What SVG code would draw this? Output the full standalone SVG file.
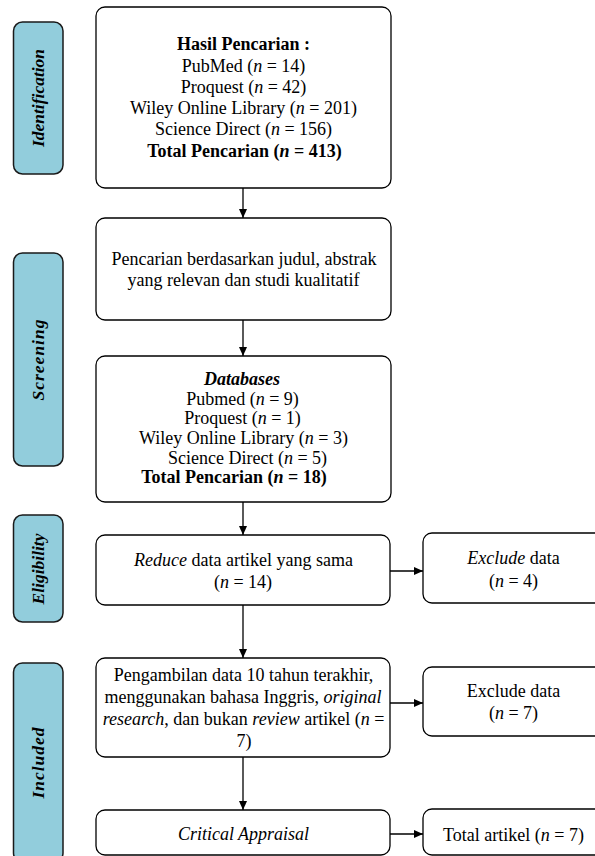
<svg xmlns="http://www.w3.org/2000/svg" width="595" height="856" viewBox="0 0 595 856">
<style>
.box{fill:#fff;stroke:#000;stroke-width:1.3}
.lab{fill:#92CDDC;stroke:#1a1a1a;stroke-width:1.5}
.t{font-family:"Liberation Serif","Times New Roman",serif;font-size:18px;fill:#000;text-anchor:middle}
.lt{font-family:"Liberation Serif","Times New Roman",serif;font-size:17.5px;font-weight:bold;font-style:italic;fill:#000;text-anchor:middle}
.b{font-weight:bold}
.i{font-style:italic}
.con{stroke:#000;stroke-width:1.3;fill:none;marker-end:url(#ah)}
</style>
<defs>
<marker id="ah" markerUnits="userSpaceOnUse" markerWidth="9" markerHeight="8" refX="9" refY="4" orient="auto">
<path d="M0,0 L9,4 L0,8 z" fill="#000"/>
</marker>
</defs>
<g id="label-identification">
<rect class="lab" x="13.5" y="22" width="49.5" height="152" rx="9"/>
<text class="lt" transform="translate(44,98) rotate(-90)">Identification</text>
</g>
<g id="label-screening">
<rect class="lab" x="13.5" y="253" width="49.5" height="213" rx="9"/>
<text class="lt" transform="translate(44,359.5) rotate(-90)" letter-spacing="1">Screening</text>
</g>
<g id="label-eligibility">
<rect class="lab" x="13.5" y="515" width="49.5" height="107" rx="9"/>
<text class="lt" transform="translate(44,569) rotate(-90)">Eligibility</text>
</g>
<g id="label-included">
<rect class="lab" x="13.5" y="663" width="49.5" height="199" rx="9"/>
<text class="lt" transform="translate(44,762.5) rotate(-90)" letter-spacing="1">Included</text>
</g>
<g id="box-hasil">
<rect class="box" x="96" y="7" width="295" height="181" rx="9"/>
<text class="t" x="243.5" y="49.5"><tspan class="b">Hasil Pencarian :</tspan></text>
<text class="t" x="243.5" y="71.5">PubMed (<tspan class="i">n</tspan> = 14)</text>
<text class="t" x="243.5" y="92.5">Proquest (<tspan class="i">n</tspan> = 42)</text>
<text class="t" x="243.5" y="113.5">Wiley Online Library (<tspan class="i">n</tspan> = 201)</text>
<text class="t" x="243.5" y="135">Science Direct (<tspan class="i">n</tspan> = 156)</text>
<text class="t b" x="244.5" y="156.5">Total Pencarian (<tspan class="i">n</tspan> = 413)</text>
</g>
<g id="box-judul">
<rect class="box" x="96" y="218" width="295" height="102" rx="9"/>
<text class="t" x="244" y="265">Pencarian berdasarkan judul, abstrak</text>
<text class="t" x="243.5" y="286">yang relevan dan studi kualitatif</text>
</g>
<g id="box-databases">
<rect class="box" x="96" y="356" width="295" height="146" rx="9"/>
<text class="t b i" x="242" y="385">Databases</text>
<text class="t" x="242.5" y="404.5">Pubmed (<tspan class="i">n</tspan> = 9)</text>
<text class="t" x="242.5" y="424">Proquest (<tspan class="i">n</tspan> = 1)</text>
<text class="t" x="243.5" y="444">Wiley Online Library (<tspan class="i">n</tspan> = 3)</text>
<text class="t" x="247.5" y="463.5">Science Direct (<tspan class="i">n</tspan> = 5)</text>
<text class="t b" x="234" y="483">Total Pencarian (<tspan class="i">n</tspan> = 18)</text>
</g>
<g id="box-reduce">
<rect class="box" x="96" y="535" width="294" height="70" rx="9"/>
<text class="t" x="243.5" y="566"><tspan class="i">Reduce</tspan> data artikel yang sama</text>
<text class="t" x="243" y="588">(<tspan class="i">n</tspan> = 14)</text>
</g>
<g id="box-exclude1">
<rect class="box" x="423" y="533" width="182" height="70" rx="9"/>
<text class="t" x="513.5" y="564"><tspan class="i">Exclude</tspan> data</text>
<text class="t" x="513.5" y="587">(<tspan class="i">n</tspan> = 4)</text>
</g>
<g id="box-pengambilan">
<rect class="box" x="96" y="658" width="294" height="99" rx="9"/>
<text class="t" x="243.5" y="681">Pengambilan data 10 tahun terakhir,</text>
<text class="t" x="243" y="703">menggunakan bahasa Inggris, <tspan class="i">original</tspan></text>
<text class="t" x="243.5" y="725"><tspan class="i">research</tspan>, dan bukan <tspan class="i">review</tspan> artikel (<tspan class="i">n</tspan> =</text>
<text class="t" x="244" y="747">7)</text>
</g>
<g id="box-exclude2">
<rect class="box" x="423" y="667" width="182" height="69" rx="9"/>
<text class="t" x="513.5" y="697">Exclude data</text>
<text class="t" x="513.5" y="719">(<tspan class="i">n</tspan> = 7)</text>
</g>
<g id="box-critical">
<rect class="box" x="96" y="810" width="294" height="45" rx="9"/>
<text class="t i" x="243.5" y="840">Critical Appraisal</text>
</g>
<g id="box-total">
<rect class="box" x="423" y="809" width="182" height="46" rx="9"/>
<text class="t" x="513.5" y="841">Total artikel (<tspan class="i">n</tspan> = 7)</text>
</g>
<g id="connectors">
<line class="con" x1="243" y1="188" x2="243" y2="218"/>
<line class="con" x1="243" y1="320" x2="243" y2="356"/>
<line class="con" x1="243" y1="502" x2="243" y2="535"/>
<line class="con" x1="243" y1="605" x2="243" y2="658"/>
<line class="con" x1="243" y1="757" x2="243" y2="810"/>
<line class="con" x1="390" y1="571" x2="423" y2="571"/>
<line class="con" x1="390" y1="703" x2="423" y2="703"/>
<line class="con" x1="390" y1="834" x2="423" y2="834"/>
</g>
</svg>
